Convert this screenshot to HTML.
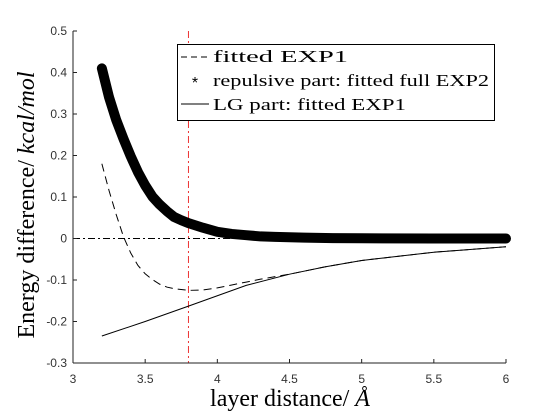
<!DOCTYPE html>
<html><head><meta charset="utf-8"><style>
body{margin:0;background:#fff;}
svg{display:block;}
</style></head><body>
<svg id="chart" width="560" height="420" xmlns="http://www.w3.org/2000/svg">
<rect width="560" height="420" fill="#fff"/>
<g id="plot"></g>
<g id="axes"></g>
<g>
<rect x="177.5" y="44.5" width="317" height="76" fill="#fff" stroke="#000" stroke-width="1"/>
<line x1="181" y1="57" x2="209" y2="57" stroke="#000" stroke-dasharray="6,4"/>
<text x="195" y="88" font-size="16" text-anchor="middle" font-family="Liberation Sans, sans-serif">*</text>
<line x1="181" y1="104" x2="209" y2="104" stroke="#000"/>
<text x="213" y="62" font-family="Liberation Serif, serif" font-size="17" textLength="135" lengthAdjust="spacingAndGlyphs">fitted EXP1</text>
<text x="213" y="86" font-family="Liberation Serif, serif" font-size="17" textLength="276" lengthAdjust="spacingAndGlyphs">repulsive part: fitted full EXP2</text>
<text x="213" y="110" font-family="Liberation Serif, serif" font-size="17" textLength="193" lengthAdjust="spacingAndGlyphs">LG part: fitted EXP1</text>
</g>
<text x="290" y="406" text-anchor="middle" font-family="Liberation Serif, serif" font-size="24">layer distance/ <tspan font-style="italic">Å</tspan></text>
<text transform="translate(34,205) rotate(-90)" text-anchor="middle" font-family="Liberation Serif, serif" font-size="24">Energy difference/ <tspan font-style="italic">kcal/mol</tspan></text>
</svg>
<script>
const repX=[3.2,3.25,3.3,3.35,3.4,3.45,3.5,3.55,3.6,3.65,3.7,3.75,3.8,3.9,4.0,4.1,4.2,4.3,4.4,4.5,4.6,4.8,5.0,5.5,6.0];
const repY=[0.41,0.34,0.285,0.24,0.198,0.16,0.128,0.101,0.082,0.066,0.052,0.044,0.037,0.026,0.016,0.011,0.008,0.005,0.004,0.003,0.002,0.001,0.0005,0,0];
const expX=[3.2,3.25,3.3,3.35,3.4,3.45,3.5,3.55,3.6,3.65,3.7,3.8,3.9,4.0,4.1,4.2,4.3,4.4,4.5,4.75,5.0,5.5,6.0];
const expY=[0.18,0.115,0.057,0.004,-0.035,-0.065,-0.085,-0.099,-0.11,-0.117,-0.121,-0.125,-0.124,-0.119,-0.112,-0.105,-0.098,-0.092,-0.086,-0.068,-0.053,-0.033,-0.02];
const lgX=[3.2,3.5,3.8,4.0,4.2,4.5,4.75,5.0,5.5,6.0];
const lgY=[-0.235,-0.2,-0.163,-0.138,-0.113,-0.086,-0.068,-0.053,-0.033,-0.02];
const xTicks=[3,3.5,4,4.5,5,5.5,6];
const yTicks=[-0.3,-0.2,-0.1,0,0.1,0.2,0.3,0.4,0.5];
const vlineX=3.8;
const NS="http://www.w3.org/2000/svg";
const sx=v=>73+(v-3)/3*433;
const sy=v=>238.5-v*415;
const plot=document.getElementById('plot'),axes=document.getElementById('axes');
function mk(tag,attrs,parent){const e=document.createElementNS(NS,tag);for(const k in attrs)e.setAttribute(k,attrs[k]);parent.appendChild(e);return e;}
let e=mk('line',{x1:sx(3),y1:sy(0),x2:sx(6),y2:sy(0),stroke:'#000','stroke-dasharray':'7,3,2,3'},plot);


e=mk('line',{x1:sx(vlineX),y1:sy(0.5),x2:sx(vlineX),y2:sy(-0.3),stroke:'#e33','stroke-dasharray':'7,3,2,3'},plot);


const pts=(X,Y)=>X.map((x,i)=>sx(x)+','+sy(Y[i])).join(' ');
e=mk('polyline',{points:pts(expX,expY),fill:'none',stroke:'#000','stroke-dasharray':'8,5'},plot);


e=mk('polyline',{points:pts(lgX,lgY),fill:'none',stroke:'#000'},plot);


e=mk('polyline',{points:pts(repX,repY),fill:'none',stroke:'#000','stroke-width':10,'stroke-linejoin':'round','stroke-linecap':'round'},plot);


</script>
<script>
let ax=mk('line',{x1:73,y1:sy(-0.3),x2:506,y2:sy(-0.3),stroke:'#222'},axes);


ax=mk('line',{x1:73,y1:sy(0.5),x2:73,y2:sy(-0.3),stroke:'#222'},axes);


xTicks.forEach(v=>{mk('line',{x1:sx(v),y1:sy(-0.3),x2:sx(v),y2:sy(-0.3)-4,stroke:'#222'},axes);
const t=mk('text',{x:sx(v),y:383,'text-anchor':'middle','font-size':12,fill:'#333','font-family':'Liberation Sans, sans-serif'},axes);t.textContent=String(v);

});
yTicks.forEach(v=>{mk('line',{x1:73,y1:sy(v),x2:77,y2:sy(v),stroke:'#222'},axes);
const t=mk('text',{x:67,y:sy(v)+4,'text-anchor':'end','font-size':12,fill:'#333','font-family':'Liberation Sans, sans-serif'},axes);t.textContent=String(v);

});
</script>
</body></html>
